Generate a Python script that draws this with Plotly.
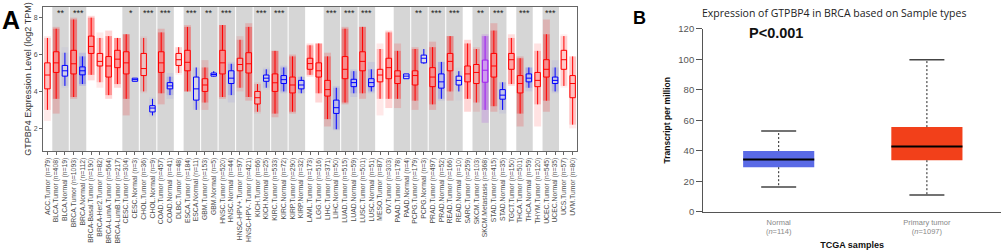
import plotly.graph_objects as go

# ---------------- Panel A data (TIMER-style, log2 TPM) ----------------
labels = ["ACC.Tumor", "BLCA.Tumor", "BLCA.Normal", "BRCA.Tumor", "BRCA.Normal",
          "BRCA-Basal.Tumor", "BRCA-Her2.Tumor", "BRCA-LumA.Tumor", "BRCA-LumB.Tumor",
          "CESC.Tumor", "CESC.Normal", "CHOL.Tumor", "CHOL.Normal", "COAD.Tumor",
          "COAD.Normal", "DLBC.Tumor", "ESCA.Tumor", "ESCA.Normal", "GBM.Tumor",
          "GBM.Normal", "HNSC.Tumor", "HNSC.Normal", "HNSC-HPV+.Tumor", "HNSC-HPV-.Tumor",
          "KICH.Tumor", "KICH.Normal", "KIRC.Tumor", "KIRC.Normal", "KIRP.Tumor",
          "KIRP.Normal", "LAML.Tumor", "LGG.Tumor", "LIHC.Tumor", "LIHC.Normal",
          "LUAD.Tumor", "LUAD.Normal", "LUSC.Tumor", "LUSC.Normal", "MESO.Tumor",
          "OV.Tumor", "PAAD.Tumor", "PAAD.Normal", "PCPG.Tumor", "PCPG.Normal",
          "PRAD.Tumor", "PRAD.Normal", "READ.Tumor", "READ.Normal", "SARC.Tumor",
          "SKCM.Tumor", "SKCM.Metastasis", "STAD.Tumor", "STAD.Normal", "TGCT.Tumor",
          "THCA.Tumor", "THCA.Normal", "THYM.Tumor", "UCEC.Tumor", "UCEC.Normal",
          "UCS.Tumor", "UVM.Tumor"]
n_samples = [79, 408, 19, 1093, 112, 190, 82, 564, 217, 304, 3, 36, 9, 457, 41, 48, 184, 11,
             153, 5, 520, 44, 97, 421, 66, 25, 533, 72, 290, 32, 173, 516, 371, 50, 515, 59,
             501, 51, 87, 303, 178, 4, 179, 3, 497, 52, 166, 10, 259, 103, 368, 415, 35, 150,
             501, 59, 120, 545, 35, 57, 80]
q1 = [4.14, 5.03, 4.83, 4.95, 4.90, 6.06, 5.38, 4.78, 5.29, 4.95,
      4.55, 4.86, 2.89, 5.03, 4.14, 5.41, 5.12, 3.53, 4.00, 4.83,
      4.95, 4.43, 5.12, 5.00, 3.32, 4.55, 4.00, 4.43, 3.92, 4.14,
      5.20, 4.78, 3.75, 2.81, 4.69, 4.26, 5.12, 4.26, 4.52, 4.69,
      4.43, 4.69, 4.35, 5.55, 4.26, 4.18, 5.12, 4.35, 4.52, 4.43,
      4.50, 4.78, 3.58, 5.20, 3.92, 4.52, 4.26, 4.78, 4.43, 5.20, 3.66]
med = [4.89, 5.55, 5.12, 5.50, 5.12, 6.44, 5.63, 5.38, 5.75, 5.55,
       4.64, 5.24, 3.10, 5.55, 4.30, 5.72, 5.58, 4.14, 4.35, 4.92,
       5.55, 4.72, 5.46, 5.50, 3.66, 4.72, 4.47, 4.64, 4.35, 4.35,
       5.51, 5.12, 4.10, 3.12, 5.20, 4.48, 5.63, 4.48, 4.89, 5.29,
       4.83, 4.83, 4.86, 5.80, 4.78, 4.52, 5.63, 4.60, 4.95, 5.03,
       5.15, 5.38, 3.80, 5.72, 4.43, 4.72, 4.60, 5.20, 4.60, 5.72, 4.43]
q3 = [5.55, 6.15, 5.41, 6.23, 5.33, 7.00, 6.06, 5.89, 6.23, 6.15,
      4.72, 6.06, 3.23, 6.15, 4.48, 6.06, 6.23, 4.78, 4.69, 5.00,
      6.23, 5.12, 5.80, 6.10, 4.00, 4.89, 4.95, 4.86, 4.78, 4.60,
      5.80, 5.55, 4.60, 3.53, 5.89, 4.66, 6.15, 4.69, 5.20, 5.80,
      5.12, 4.95, 5.12, 5.97, 5.29, 4.95, 6.06, 4.83, 5.38, 5.46,
      5.70, 6.06, 4.10, 6.06, 4.86, 4.95, 5.03, 5.72, 4.78, 6.23, 4.86]
whisk_lo = [3.0, 3.6, 4.3, 3.7, 4.4, 4.9, 4.5, 3.8, 4.4, 3.6,
            4.55, 4.0, 2.7, 3.9, 3.8, 5.0, 4.0, 3.0, 3.4, 4.8,
            3.7, 3.8, 4.2, 3.7, 2.9, 4.2, 2.8, 4.0, 2.9, 3.9,
            4.9, 3.9, 2.5, 1.95, 3.4, 3.9, 3.9, 4.0, 3.6, 3.6,
            3.6, 4.69, 3.5, 5.5, 3.3, 3.6, 4.0, 4.0, 3.6, 3.4,
            3.0, 3.2, 3.0, 4.4, 2.8, 4.2, 3.3, 3.5, 4.0, 4.3, 2.2]
whisk_hi = [6.9, 7.4, 6.1, 7.9, 5.9, 8.0, 6.9, 7.0, 6.9, 7.1,
            4.72, 6.9, 3.6, 7.2, 4.8, 6.4, 7.5, 5.3, 5.3, 5.1,
            7.6, 5.5, 6.8, 7.5, 4.4, 5.2, 6.2, 5.3, 5.9, 4.8,
            6.5, 6.6, 5.9, 4.2, 7.4, 5.1, 7.5, 5.2, 6.3, 7.2,
            6.2, 4.95, 6.3, 6.3, 6.4, 5.6, 7.0, 5.1, 6.6, 6.3,
            7.0, 7.3, 4.5, 6.9, 5.8, 5.3, 6.2, 7.1, 5.3, 7.0, 5.9]
pts_lo = [2.4, 2.8, 4.2, 3.6, 4.3, 4.6, 4.2, 3.6, 4.2, 2.7,
          4.55, 3.9, 2.6, 3.3, 3.6, 4.9, 4.0, 3.0, 3.0, 4.8,
          3.6, 3.4, 4.0, 3.5, 2.8, 4.1, 2.6, 3.9, 2.8, 3.9,
          4.8, 3.4, 2.1, 1.9, 3.3, 3.7, 3.6, 3.9, 2.7, 3.1,
          3.1, 4.69, 3.0, 5.5, 3.0, 3.5, 3.5, 3.5, 2.9, 2.9,
          2.3, 2.9, 2.8, 4.3, 2.1, 4.0, 2.1, 2.9, 3.9, 4.2, 2.0]
pts_hi = [7.0, 7.5, 6.4, 8.0, 6.1, 8.1, 7.2, 7.3, 6.9, 7.1,
          4.72, 7.0, 3.7, 7.4, 5.0, 6.4, 7.6, 5.3, 5.7, 5.1,
          7.6, 5.6, 7.0, 7.7, 4.5, 5.3, 6.2, 5.4, 6.0, 4.8,
          6.6, 6.6, 6.1, 4.3, 7.5, 5.2, 7.5, 5.6, 6.6, 7.3,
          6.6, 4.95, 6.4, 6.3, 6.7, 5.6, 7.0, 5.3, 6.8, 6.4,
          7.1, 7.7, 4.5, 7.1, 5.9, 5.3, 6.6, 7.9, 5.7, 7.1, 5.9]

shaded_groups = ["BLCA", "BRCA", "CESC", "CHOL", "COAD", "ESCA", "GBM", "HNSC", "HNSC-HPV",
                 "KICH", "KIRC", "KIRP", "LIHC", "LUAD", "LUSC", "PAAD", "PCPG", "PRAD",
                 "READ", "SKCM", "STAD", "THCA", "UCEC"]
signif_groups = ["BLCA", "BRCA", "CESC", "CHOL", "COAD", "ESCA", "GBM", "HNSC", "KICH",
                 "KIRC", "LIHC", "LUAD", "LUSC", "PCPG", "PRAD", "READ", "SKCM", "STAD",
                 "THCA", "UCEC"]
signif_marks = ["**", "***", "*", "***", "***", "***", "**", "***", "***",
                "***", "***", "***", "***", "**", "***", "***", "**", "***",
                "***", "***"]
y_tick_vals = [2, 4, 6, 8]

# ---------------- Panel B data (UALCAN, BRCA) ----------------
b_groups = ["Normal<br>(<i>n</i>=114)", "Primary tumor<br>(<i>n</i>=1097)"]
b_min = [16.2, 11.0]
b_q1 = [29.2, 33.8]
b_med = [34.2, 42.7]
b_q3 = [39.8, 55.5]
b_max = [52.9, 99.7]
b_colors = ["#5a6ae6", "#f2401a"]
b_y_ticks = [0, 20, 40, 60, 80, 100, 120]

# ---------------- Build figure ----------------
cats = [f"{l} (n={k})" for l, k in zip(labels, n_samples)]


def stype(l):
    return l.split(".")[-1]


def cgroup(l):
    g = l.split(".")[0]
    return "HNSC-HPV" if g.startswith("HNSC-HPV") else g


base_rgb = {"Tumor": (255, 0, 0), "Normal": (0, 0, 255), "Metastasis": (160, 32, 240)}


def rgba(t, a):
    r, g, b = base_rgb[t]
    return f"rgba({r},{g},{b},{a:.3f})"


fig = go.Figure()

# grey background bands for tumor/normal groups
for g in shaded_groups:
    idx = [i for i, l in enumerate(labels) if cgroup(l) == g]
    fig.add_shape(type="rect", xref="x", yref="paper",
                  x0=min(idx) - 0.5 + 0.06, x1=max(idx) + 0.5 - 0.06, y0=0.388, y1=0.996,
                  fillcolor="#d6d6d6", line_width=0, layer="below")

# point clouds approximated as translucent bands
dens = [min(1.0, k / 200) ** 0.7 for k in n_samples]
layers = [(pts_lo, pts_hi, 0.80, 0.16), (whisk_lo, whisk_hi, 0.76, 0.30), (q1, q3, 0.76, 0.42)]
for lo, hi, w, a in layers:
    fig.add_trace(go.Bar(
        x=cats, base=lo, y=[h - l for l, h in zip(lo, hi)], width=w,
        marker=dict(color=[rgba(stype(l), a * d) for l, d in zip(labels, dens)], line_width=0),
        xaxis="x", yaxis="y", showlegend=False, hoverinfo="skip"))

for t in ["Tumor", "Normal", "Metastasis"]:
    ii = [i for i, l in enumerate(labels) if stype(l) == t]
    r, g, b = base_rgb[t]
    fig.add_trace(go.Box(
        x=[cats[i] for i in ii], q1=[q1[i] for i in ii], median=[med[i] for i in ii],
        q3=[q3[i] for i in ii], lowerfence=[whisk_lo[i] for i in ii],
        upperfence=[whisk_hi[i] for i in ii], width=0.62, whiskerwidth=0,
        boxpoints=False, line=dict(color=f"rgb({r},{g},{b})", width=1),
        fillcolor="rgba(255,255,255,0.38)", xaxis="x", yaxis="y", showlegend=False))

for g, s in zip(signif_groups, signif_marks):
    idx = [i for i, l in enumerate(labels) if cgroup(l) == g]
    fig.add_annotation(x=sum(idx) / len(idx), y=8.27, xref="x", yref="y", text=s,
                       showarrow=False, font=dict(size=9, color="#222", family="Arial"))

# Panel B
bx = list(range(len(b_groups)))
fig.add_trace(go.Bar(x=bx, base=b_q1, y=[h - l for l, h in zip(b_q1, b_q3)], width=0.48,
                     marker=dict(color=b_colors, line_width=0), xaxis="x2", yaxis="y2",
                     showlegend=False, hoverinfo="skip"))
half = 0.24
cap = 0.118
for i in bx:
    fig.add_trace(go.Scatter(x=[i, i, None, i, i], y=[b_q3[i], b_max[i], None, b_q1[i], b_min[i]],
                             mode="lines", line=dict(color="#222", width=1, dash="2px,2px"),
                             xaxis="x2", yaxis="y2", showlegend=False, hoverinfo="skip"))
    fig.add_trace(go.Scatter(x=[i - cap, i + cap, None, i - cap, i + cap],
                             y=[b_max[i], b_max[i], None, b_min[i], b_min[i]],
                             mode="lines", line=dict(color="#444", width=1.5),
                             xaxis="x2", yaxis="y2", showlegend=False, hoverinfo="skip"))
    fig.add_trace(go.Scatter(x=[i - half, i + half], y=[b_med[i], b_med[i]],
                             mode="lines", line=dict(color="#000", width=2),
                             xaxis="x2", yaxis="y2", showlegend=False, hoverinfo="skip"))

fig.update_layout(
    width=1003, height=250, margin=dict(l=0, r=0, t=0, b=0),
    paper_bgcolor="white", plot_bgcolor="white",
    barmode="overlay", boxmode="overlay", showlegend=False,
    font=dict(family="Arial", color="#333"),
    xaxis=dict(domain=[0.0429, 0.5753], anchor="y", type="category",
               categoryorder="array", categoryarray=cats, range=[-0.5, len(cats) - 0.5],
               tickangle=-90, tickfont=dict(size=6.8, color="#4d4d4d"),
               ticks="outside", ticklen=3, tickcolor="#666",
               showline=True, mirror=True, linecolor="#666", linewidth=1,
               showgrid=False, zeroline=False),
    yaxis=dict(domain=[0.388, 0.996], anchor="x", range=[0.77, 8.58],
               tickvals=y_tick_vals, tickfont=dict(size=7, color="#4d4d4d"),
               ticks="outside", ticklen=3, tickcolor="#666",
               showline=True, mirror=True, linecolor="#666", linewidth=1,
               showgrid=False, zeroline=False,
               title=dict(text="GTPBP4 Expression Level (log2 TPM)",
                          font=dict(size=9, color="#333"), standoff=0)),
    xaxis2=dict(domain=[0.701, 0.998], anchor="y2", range=[-0.51, 1.5],
                tickvals=bx, ticktext=b_groups, ticks="", ticklabelstandoff=3,
                tickfont=dict(size=7.5, color="#888"),
                showline=True, linecolor="#555", linewidth=1,
                showgrid=False, zeroline=False,
                title=dict(text="<b>TCGA samples</b>", font=dict(size=9, color="#111"),
                           standoff=7)),
    yaxis2=dict(domain=[0.132, 0.904], anchor="x2", range=[0, 120],
                tickvals=b_y_ticks, ticks="outside", ticklen=6, tickcolor="#555",
                tickfont=dict(size=9.5, color="#555"),
                showline=True, linecolor="#555", linewidth=1,
                showgrid=False, zeroline=False,
                title=dict(text="<b>Transcript per million</b>",
                           font=dict(size=8.5, color="#111"), standoff=6)),
)

fig.add_annotation(x=0.0, y=1.0 + 2 / 250, xref="paper", yref="paper", xanchor="left",
                   yanchor="top", text="<b>A</b>", showarrow=False,
                   font=dict(size=25, color="#000", family="Arial"))
fig.add_annotation(x=631 / 1003, y=1.0, xref="paper", yref="paper", xanchor="left",
                   yanchor="top", text="<b>B</b>", showarrow=False,
                   font=dict(size=18, color="#000", family="Arial"))
fig.add_annotation(x=834 / 1003, y=1 - 7.5 / 250, xref="paper", yref="paper",
                   xanchor="center", yanchor="middle",
                   text="Expression of GTPBP4 in BRCA based on Sample types", showarrow=False,
                   font=dict(size=10.5, color="#222", family="Open Sans"))
fig.add_annotation(x=747 / 1003, y=1 - 28 / 250, xref="paper", yref="paper",
                   xanchor="left", yanchor="middle", text="<b>P<0.001</b>", showarrow=False,
                   font=dict(size=14.5, color="#111", family="Arial"))

fig.write_html("out.html", config={"displayModeBar": False},
               post_script="document.body.style.margin='0';document.body.style.overflow='hidden';")
